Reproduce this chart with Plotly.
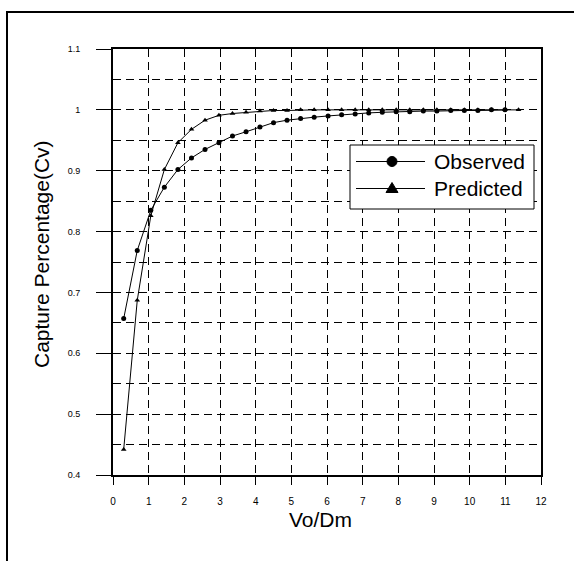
import plotly.graph_objects as go

# Vo/Dm positions of the measured and modelled points
vo_dm = [0.30, 0.68, 1.06, 1.44, 1.82, 2.20, 2.58, 2.97, 3.35, 3.73,
         4.12, 4.50, 4.88, 5.26, 5.64, 6.03, 6.41, 6.79, 7.17, 7.55,
         7.94, 8.32, 8.70, 9.08, 9.47, 9.85, 10.23, 10.61, 10.99]
vo_dm_pred = vo_dm + [11.37]

# Capture percentage (Cv)
observed = [0.657, 0.769, 0.835, 0.873, 0.902, 0.921, 0.935, 0.946, 0.957, 0.964,
            0.972, 0.979, 0.983, 0.986, 0.988, 0.990, 0.992, 0.993, 0.995, 0.996,
            0.997, 0.997, 0.998, 0.998, 0.999, 0.999, 0.999, 1.000, 1.000]
predicted = [0.442, 0.687, 0.826, 0.902, 0.946, 0.968, 0.983, 0.991, 0.994, 0.996,
             0.998, 0.999, 0.999, 1.000, 1.000, 1.000, 1.000, 1.000, 1.000, 1.000,
             1.000, 1.000, 1.000, 1.000, 1.000, 1.000, 1.000, 1.000, 1.000, 1.000]

series_names = ["Observed", "Predicted"]

FONT = "Arial, Liberation Sans, sans-serif"
GRID_DASH = "8px,5px"

fig = go.Figure()
fig.add_trace(go.Scatter(
    x=vo_dm, y=observed, mode="lines+markers", name=series_names[0],
    line=dict(color="black", width=1),
    marker=dict(symbol="circle", size=5, color="black"),
    showlegend=False,
))
fig.add_trace(go.Scatter(
    x=vo_dm_pred, y=predicted, mode="lines+markers", name=series_names[1],
    line=dict(color="black", width=1),
    marker=dict(symbol="triangle-up", size=5, color="black"),
    showlegend=False,
))

# plot area in pixels: x 113..541, y 49..475
L, R, T, B = 113, 33, 49, 86
W, H = 574, 561
pw, ph = W - L - R, H - T - B


def px_x(p):
    return (p - L) / pw


def px_y(p):
    return (H - B - p) / ph


shapes = []
# outer frame, open on the right and bottom
shapes.append(dict(type="rect", xref="paper", yref="paper",
                   x0=px_x(7), x1=px_x(590), y0=px_y(590), y1=px_y(12),
                   line=dict(color="black", width=2), fillcolor="rgba(0,0,0,0)",
                   layer="above"))
# legend box
shapes.append(dict(type="rect", xref="paper", yref="paper",
                   x0=px_x(350), x1=px_x(534), y0=px_y(209), y1=px_y(145),
                   line=dict(color="black", width=1), fillcolor="white",
                   layer="above"))
legend_rows = [161.5, 188.5]
for row in legend_rows:
    shapes.append(dict(type="line", xref="paper", yref="paper",
                       x0=px_x(356), x1=px_x(425), y0=px_y(row), y1=px_y(row),
                       line=dict(color="black", width=1), layer="above"))
# legend symbols
shapes.append(dict(type="circle", xref="paper", yref="paper",
                   xsizemode="pixel", ysizemode="pixel",
                   xanchor=px_x(392), yanchor=px_y(legend_rows[0]),
                   x0=-5, x1=5, y0=-5, y1=5,
                   fillcolor="black", line=dict(color="black", width=1),
                   layer="above"))
shapes.append(dict(type="path", xref="paper", yref="paper",
                   xsizemode="pixel", ysizemode="pixel",
                   xanchor=px_x(392), yanchor=px_y(legend_rows[1]),
                   path="M-6,-4 L6,-4 L0,6 Z",
                   fillcolor="black", line=dict(color="black", width=1),
                   layer="above"))

annotations = []
for name, row in zip(series_names, legend_rows):
    annotations.append(dict(text=name, xref="paper", yref="paper",
                            x=px_x(432), y=px_y(row), xanchor="left", yanchor="middle",
                            showarrow=False, font=dict(family=FONT, size=21, color="black")))
annotations.append(dict(text="Capture Percentage(Cv)", xref="paper", yref="paper",
                        x=px_x(42), y=px_y(254), xanchor="center", yanchor="middle",
                        textangle=-90, showarrow=False,
                        font=dict(family=FONT, size=21, color="black")))
annotations.append(dict(text="Vo/Dm", xref="paper", yref="paper",
                        x=px_x(320), y=px_y(519), xanchor="center", yanchor="middle",
                        showarrow=False, font=dict(family=FONT, size=21, color="black")))

fig.update_layout(
    width=W, height=H,
    margin=dict(l=L, r=R, t=T, b=B, pad=0),
    paper_bgcolor="white", plot_bgcolor="white",
    font=dict(family=FONT, color="black"),
    shapes=shapes, annotations=annotations,
)
fig.update_xaxes(
    range=[0, 12], tick0=0, dtick=1,
    showline=True, linecolor="black", linewidth=2, mirror=True,
    ticks="outside", ticklen=8, tickwidth=1, tickcolor="black",
    ticklabelstandoff=8,
    tickfont=dict(size=10, family=FONT),
    showgrid=True, gridcolor="black", gridwidth=1, griddash=GRID_DASH,
    zeroline=False,
)
fig.update_yaxes(
    range=[0.4, 1.1], tick0=0.4, dtick=0.1,
    showline=True, linecolor="black", linewidth=2, mirror=True,
    ticks="outside", ticklen=15, tickwidth=1, tickcolor="black",
    ticklabelstandoff=14,
    tickfont=dict(size=9, family=FONT),
    showgrid=True, gridcolor="black", gridwidth=1, griddash=GRID_DASH,
    minor=dict(dtick=0.05, tick0=0.4, showgrid=True, gridcolor="black",
               gridwidth=1, griddash=GRID_DASH, ticks=""),
    zeroline=False,
)

fig.write_html("out.html")
